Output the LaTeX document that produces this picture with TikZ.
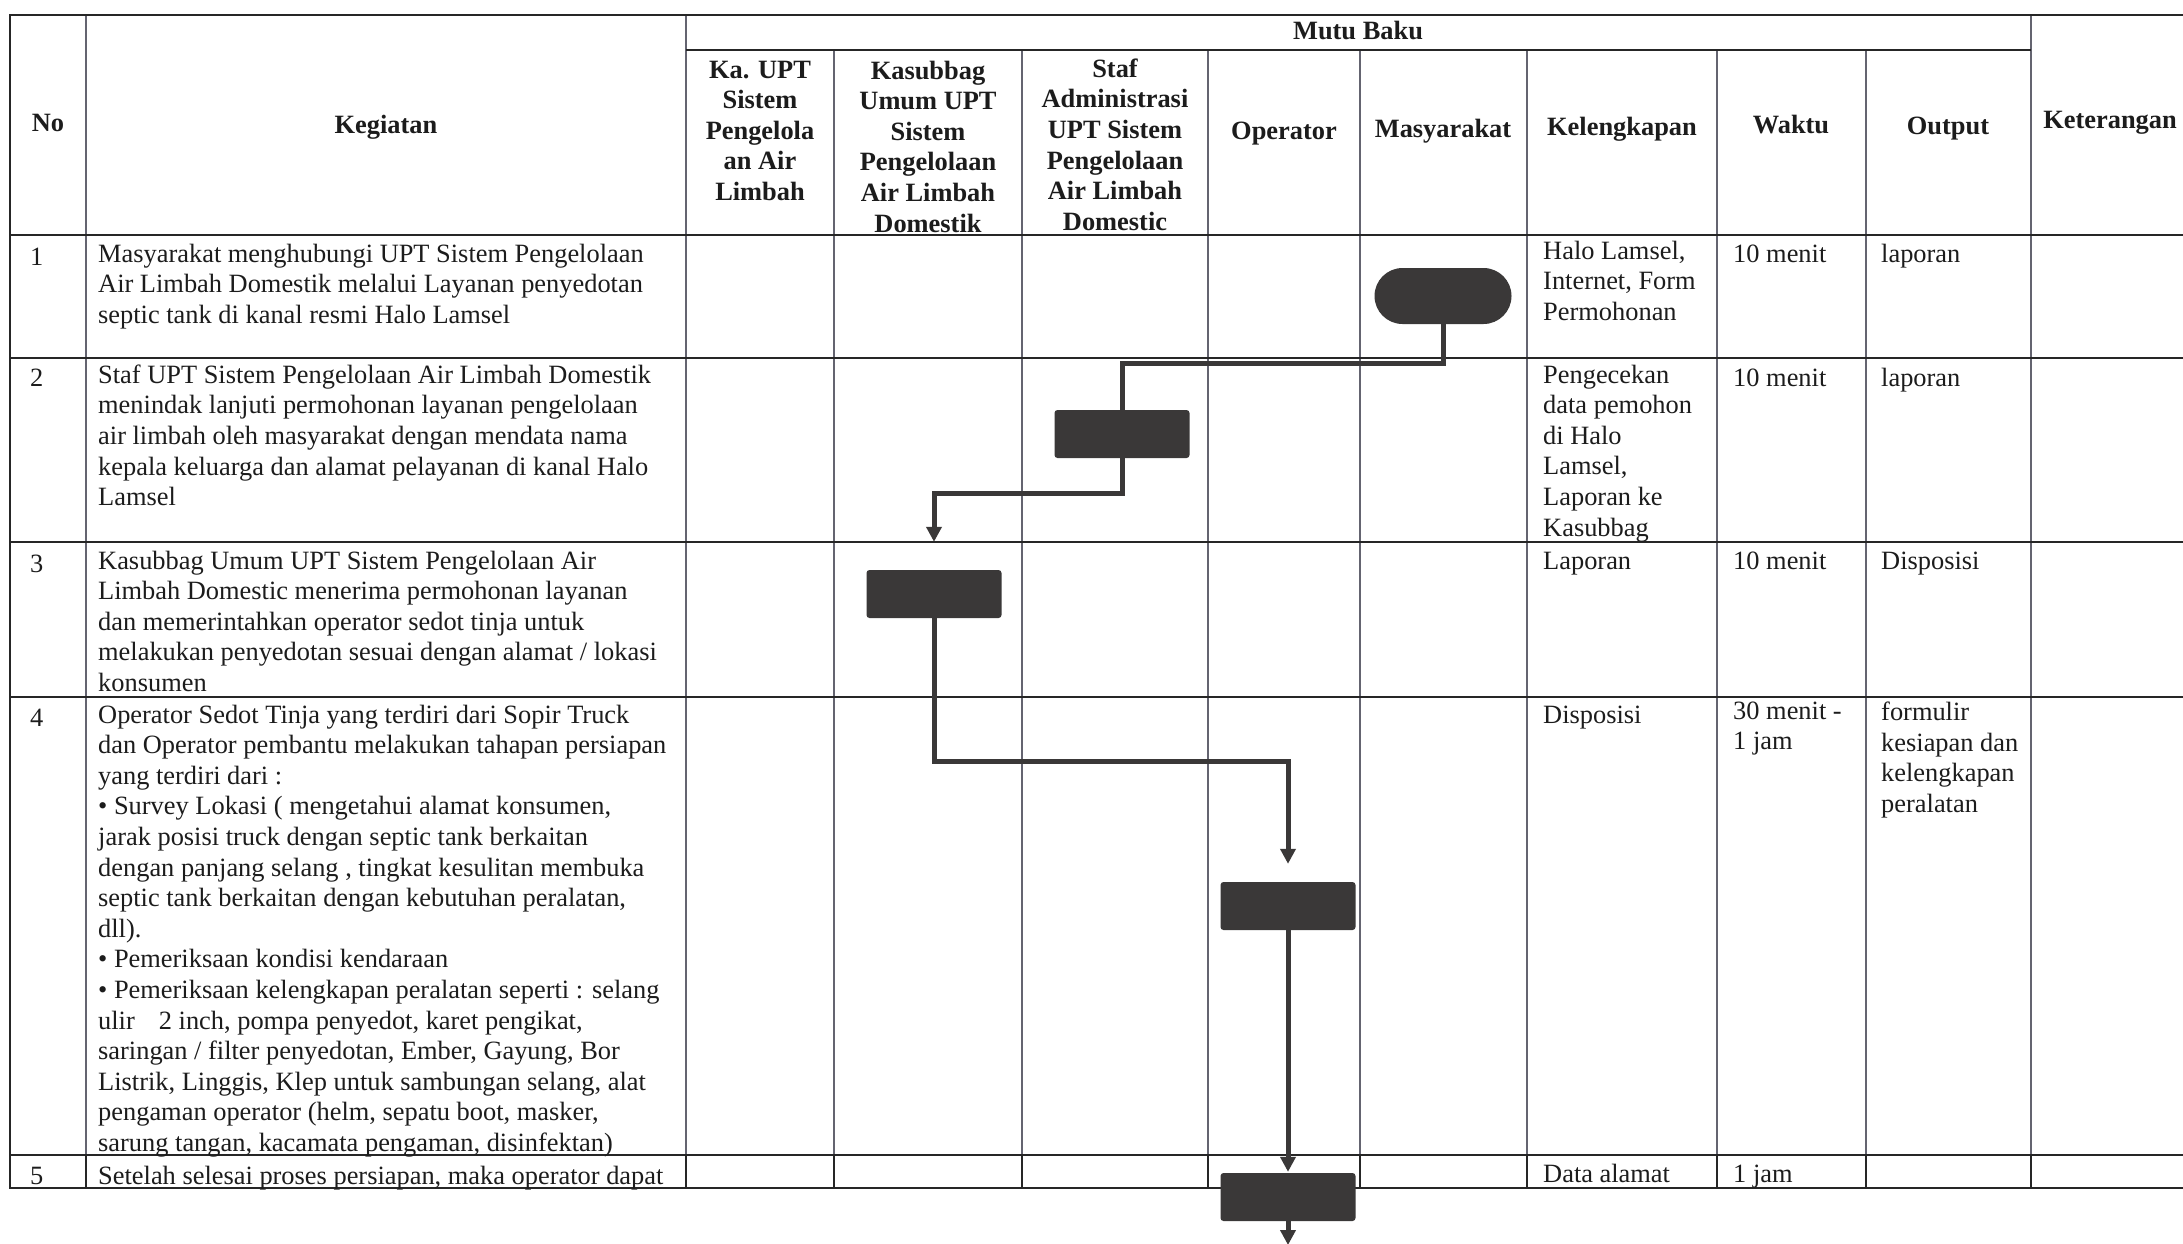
\documentclass[tikz,border=0pt]{standalone}
\usepackage{fontspec}
\setmainfont{Liberation Serif}
\usetikzlibrary{arrows.meta}
\definecolor{ink}{RGB}{28,28,28}
\definecolor{rulec}{RGB}{38,38,38}
\definecolor{vrulec}{RGB}{100,100,112}
\definecolor{shapec}{RGB}{58,56,56}

\begin{document}
\begin{tikzpicture}[x=1pt,y=-1pt,
  hline/.style={draw=rulec,line width=2.4pt},
  vline/.style={draw=vrulec,line width=1.5pt},
  vdark/.style={draw=rulec,line width=2.2pt},
  txt/.style={inner sep=0pt,text=ink,font=\fontsize{26.4}{30.6}\selectfont},
  cell/.style={txt,anchor=north west,align=left,execute at begin node=\strut},
  head/.style={inner sep=0pt,text=ink,font=\fontsize{26.4}{30.6}\selectfont\bfseries},
  headblock/.style={head,anchor=north,align=center,execute at begin node=\strut},
  headword/.style={head,anchor=base},
  actbox/.style={fill=shapec,draw=none,rounded corners=3pt,minimum width=135pt,minimum height=48pt,inner sep=0pt},
  termbox/.style={fill=shapec,draw=none,rounded corners=28pt,minimum width=137pt,minimum height=56pt,inner sep=0pt},
  conn/.style={draw=shapec,line width=5pt},
  flow/.style={conn,-{Triangle[width=15pt,length=15pt]}}
]
\fill[white] (0,0) rectangle (2183,1243);
\useasboundingbox (0,0) rectangle (2183,1243);

% ---- table grid ----
\foreach \x in {86,686,2031} \draw[vline] (\x,15) -- (\x,1188);
\foreach \x in {834,1022,1208,1360,1527,1717,1866} \draw[vline] (\x,50) -- (\x,1188);
\draw[vdark] (10,15) -- (10,1188);
\foreach \x in {86,686,834,1022,1208,1360,1527,1717,1866,2031} \draw[vdark] (\x,1155) -- (\x,1188);
\foreach \y in {15,235,358,542,697,1155,1188} \draw[hline] (9,\y) -- (2183,\y);
\draw[hline] (686,50) -- (2031,50);

% ---- header ----
\node[headword] (hNo) at (48,131) {No};
\node[headword] (hKeg) at (386,133) {Kegiatan};
\node[headword] (hMutu) at (1358,39) {Mutu Baku};
\node[headblock] (hKa) at (760,60.6) {Ka. UPT\\Sistem\\Pengelola\\an Air\\Limbah};
\node[headblock] (hKasub) at (928,60.6) {Kasubbag\\Umum UPT\\Sistem\\Pengelolaan\\Air Limbah\\Domestik};
\node[headblock] (hStaf) at (1115,58.6) {Staf\\Administrasi\\UPT Sistem\\Pengelolaan\\Air Limbah\\Domestic};
\node[headword] (hOp) at (1284,139) {Operator};
\node[headword] (hMasy) at (1443,137) {Masyarakat};
\node[headword] (hKel) at (1622,135) {Kelengkapan};
\node[headword] (hWak) at (1791,133) {Waktu};
\node[headword] (hOut) at (1948,134) {Output};
\node[headword] (hKet) at (2110,128) {Keterangan};

% ---- row numbers ----
\node[cell] (n1) at (30,243.6) {1};
\node[cell] (n2) at (30,364.6) {2};
\node[cell] (n3) at (30,550.6) {3};
\node[cell] (n4) at (30,704.6) {4};
\node[cell] (n5) at (30,1162.6) {5};

% ---- activities ----
\node[cell] (k1) at (98,243.6) {Masyarakat menghubungi UPT Sistem Pengelolaan\\Air Limbah Domestik melalui Layanan penyedotan\\septic tank di kanal resmi Halo Lamsel};
\node[cell] (k2) at (98,364.6) {Staf UPT Sistem Pengelolaan Air Limbah Domestik\\menindak lanjuti permohonan layanan pengelolaan\\air limbah oleh masyarakat dengan mendata nama\\kepala keluarga dan alamat pelayanan di kanal Halo\\Lamsel};
\node[cell] (k3) at (98,550.6) {Kasubbag Umum UPT Sistem Pengelolaan Air\\Limbah Domestic menerima permohonan layanan\\dan memerintahkan operator sedot tinja untuk\\melakukan penyedotan sesuai dengan alamat / lokasi\\konsumen};
\node[cell] (k4) at (98,704.6) {Operator Sedot Tinja yang terdiri dari Sopir Truck\\dan Operator pembantu melakukan tahapan persiapan\\yang terdiri dari :\\\textbullet{} Survey Lokasi ( mengetahui alamat konsumen,\\jarak posisi truck dengan septic tank berkaitan\\dengan panjang selang , tingkat kesulitan membuka\\septic tank berkaitan dengan kebutuhan peralatan,\\dll).\\\textbullet{} Pemeriksaan kondisi kendaraan\\\textbullet{} Pemeriksaan kelengkapan peralatan seperti : selang\\ulir\hspace{24pt}2 inch, pompa penyedot, karet pengikat,\\saringan / filter penyedotan, Ember, Gayung, Bor\\Listrik, Linggis, Klep untuk sambungan selang, alat\\pengaman operator (helm, sepatu boot, masker,\\sarung tangan, kacamata pengaman, disinfektan)};
\node[cell] (k5) at (98,1162.6) {Setelah selesai proses persiapan, maka operator dapat};

% ---- requirements, time, output ----
\node[cell] (l1) at (1543,240.6) {Halo Lamsel,\\Internet, Form\\Permohonan};
\node[cell] (l2) at (1543,364.6) {Pengecekan\\data pemohon\\di Halo\\Lamsel,\\Laporan ke\\Kasubbag};
\node[cell] (l3) at (1543,547.6) {Laporan};
\node[cell] (l4) at (1543,701.6) {Disposisi};
\node[cell] (l5) at (1543,1160.6) {Data alamat};

\node[cell] (w1) at (1733,240.6) {10 menit};
\node[cell] (w2) at (1733,364.6) {10 menit};
\node[cell] (w3) at (1733,547.6) {10 menit};
\node[cell] (w4) at (1733,701.6) {30 menit -\\1 jam};
\node[cell] (w5) at (1733,1160.6) {1 jam};

\node[cell] (o1) at (1881,240.6) {laporan};
\node[cell] (o2) at (1881,364.6) {laporan};
\node[cell] (o3) at (1881,547.6) {Disposisi};
\node[cell] (o4) at (1881,701.6) {formulir\\kesiapan dan\\kelengkapan\\peralatan};

% ---- flow ----
\node[termbox] (masy) at (1443,296) {};
\node[actbox] (staf) at (1122,434) {};
\node[actbox] (kasub) at (934,594) {};
\node[actbox] (op1) at (1288,906) {};
\node[actbox] (op2) at (1288,1197) {};
\coordinate (tail) at (1288,1245);

\draw[conn] (masy.south) -- ++(0,39) -| (staf.north);
\draw[flow,shorten >=28pt] (staf.south) -- ++(0,35) -| (kasub.north);
\draw[flow,shorten >=18pt] (kasub.south) -- ++(0,143) -| (op1.north);
\draw[flow,shorten >=1pt] (op1.south) -- (op2.north);
\draw[flow] (op2.south) -- (tail);
\end{tikzpicture}
\end{document}
